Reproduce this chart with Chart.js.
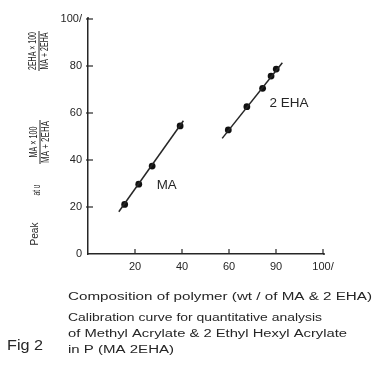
<!DOCTYPE html>
<html>
<head>
<meta charset="utf-8">
<script src="https://cdn.jsdelivr.net/npm/chart.js@4/dist/chart.umd.min.js"></script>
<style>
html,body{margin:0;padding:0;background:#fff;}
#wrap{width:375px;height:365px;}
</style>
</head>
<body>
<div id="wrap"><canvas id="c" width="375" height="365"></canvas></div>
<script>
// ---- data ----
const maX = [15.6, 21.6, 27.3, 39.2];
const maY = [21.1, 29.7, 37.4, 54.5];
const ehaX = [59.7, 67.6, 74.3, 77.9, 80.1];
const ehaY = [52.8, 62.7, 70.5, 75.7, 78.7];
// calibration (fit) line end points
const maLineX = [13.1, 40.6];
const maLineY = [18.0, 56.7];
const ehaLineX = [57.1, 82.7];
const ehaLineY = [49.2, 81.4];
// tick labels
const xTickValues = [20, 40, 60, 80, 100];
const xTickLabels = ['20', '40', '60', '90', '100/'];
const yTickValues = [0, 20, 40, 60, 80, 100];
const yTickLabels = ['0', '20', '40', '60', '80', '100/'];
// texts
const seriesNames = ['MA', '2 EHA'];
const xTitle = 'Composition of polymer (wt / of MA & 2 EHA)';
const captionLines = ['Calibration curve for quantitative analysis',
  'of Methyl Acrylate & 2 Ethyl Hexyl Acrylate', 'in P (MA 2EHA)'];
const figLabel = 'Fig 2';
const yTitleParts = {peak: 'Peak', at: 'at υ',
  frac1: ['MA × 100', 'MA + 2EHA'], frac2: ['2EHA × 100', 'MA + 2EHA']};

const INK = '#262626';
const FONT = '"Liberation Sans", Arial, sans-serif';

function pts(xs, ys){ return xs.map((x,i)=>({x:x, y:ys[i]})); }

function fitText(ctx, text, x, y, width, align){
  const w = ctx.measureText(text).width;
  const s = width / w;
  ctx.save();
  ctx.translate(x, y);
  ctx.scale(s, 1);
  ctx.textAlign = 'left';
  let ox = 0;
  if (align === 'center') ox = -w/2;
  else if (align === 'right') ox = -w;
  ctx.fillText(text, ox, 0);
  ctx.restore();
}

const decor = {
  id: 'decor',
  afterDraw(chart){
    const ctx = chart.ctx;
    const xs = chart.scales.x, ys = chart.scales.y;
    const L = xs.left, B = ys.bottom;
    ctx.save();
    ctx.strokeStyle = INK;
    ctx.lineWidth = 1.2;
    // inward tick marks
    xTickValues.forEach(v=>{
      const px = xs.getPixelForValue(v);
      ctx.beginPath(); ctx.moveTo(px, B); ctx.lineTo(px, B-5); ctx.stroke();
    });
    yTickValues.slice(1).forEach(v=>{
      const py = ys.getPixelForValue(v);
      ctx.beginPath(); ctx.moveTo(L-2, py); ctx.lineTo(L+5, py); ctx.stroke();
    });
    // small extension of the axes beyond 100
    ctx.lineWidth = 1.5;
    ctx.beginPath(); ctx.moveTo(L, ys.top); ctx.lineTo(L, ys.top-2); ctx.stroke();
    ctx.beginPath(); ctx.moveTo(xs.right, B); ctx.lineTo(xs.right+2, B); ctx.stroke();
    ctx.fillStyle = INK;
    ctx.textBaseline = 'middle';
    // series labels
    ctx.font = '12px ' + FONT;
    fitText(ctx, seriesNames[0], xs.getPixelForValue(33.5), ys.getPixelForValue(29.2), 20, 'center');
    fitText(ctx, seriesNames[1], xs.getPixelForValue(85.5), ys.getPixelForValue(64.0), 39, 'center');
    // x title and caption
    ctx.font = '10px ' + FONT;
    fitText(ctx, xTitle, 68, 297, 304, 'left');
    fitText(ctx, captionLines[0], 68, 318, 254, 'left');
    fitText(ctx, captionLines[1], 68, 334, 279, 'left');
    fitText(ctx, captionLines[2], 68, 350, 106, 'left');
    ctx.font = '15px ' + FONT;
    fitText(ctx, figLabel, 7, 346, 36, 'left');
    // rotated y title
    function rot(cx, cy, fn){
      ctx.save(); ctx.translate(cx, cy); ctx.rotate(-Math.PI/2); fn(); ctx.restore();
    }
    ctx.font = '10px ' + FONT;
    rot(35, 234, ()=>fitText(ctx, yTitleParts.peak, 0, 0, 23, 'center'));
    rot(37, 190, ()=>fitText(ctx, yTitleParts.at, 0, 0, 11, 'center'));
    function frac(cx, cy, parts, wn, wd){
      rot(cx, cy, ()=>{
        fitText(ctx, parts[0], 0, -6, wn, 'center');
        fitText(ctx, parts[1], 0, 6, wd, 'center');
        const w = Math.max(wn, wd)/2 + 1;
        ctx.lineWidth = 1;
        ctx.beginPath(); ctx.moveTo(-w, 0); ctx.lineTo(w, 0); ctx.stroke();
      });
    }
    frac(40, 142, yTitleParts.frac1, 31, 42);
    frac(39, 51, yTitleParts.frac2, 38, 37);
    ctx.restore();
  }
};

new Chart(document.getElementById('c'), {
  type: 'scatter',
  data: {
    datasets: [
      {type:'line', data: pts(maLineX, maLineY), showLine:true, pointRadius:0,
       borderColor: INK, borderWidth:1.5, fill:false},
      {type:'line', data: pts(ehaLineX, ehaLineY), showLine:true, pointRadius:0,
       borderColor: INK, borderWidth:1.5, fill:false},
      {label: seriesNames[0], data: pts(maX, maY), pointRadius:3.4,
       backgroundColor:'#111', borderColor:'#111', borderWidth:0},
      {label: seriesNames[1], data: pts(ehaX, ehaY), pointRadius:3.4,
       backgroundColor:'#111', borderColor:'#111', borderWidth:0}
    ]
  },
  options: {
    responsive:false, animation:false,
    layout:{padding:{top:19, right:52, left:0, bottom:0}},
    plugins:{legend:{display:false}, tooltip:{enabled:false}},
    scales:{
      x:{type:'linear', min:0, max:100,
         afterBuildTicks(s){ s.ticks = xTickValues.map(v=>({value:v})); },
         afterFit(s){ s.height = 111; },
         grid:{display:false, drawTicks:false, tickLength:0},
         border:{display:true, color:INK, width:1.5},
         ticks:{color:INK, font:{size:11, family:FONT}, padding:6, maxRotation:0,
           callback(v){ const i = xTickValues.indexOf(v); return i>=0 ? xTickLabels[i] : ''; }}},
      y:{type:'linear', min:0, max:100,
         afterBuildTicks(s){ s.ticks = yTickValues.map(v=>({value:v})); },
         afterFit(s){ s.width = 88; },
         grid:{display:false, drawTicks:false, tickLength:0},
         border:{display:true, color:INK, width:1.5},
         ticks:{color:INK, font:{size:11, family:FONT}, padding:6,
           callback(v){ const i = yTickValues.indexOf(v); return i>=0 ? yTickLabels[i] : ''; }}}
    }
  },
  plugins:[decor]
});
</script>
</body>
</html>
